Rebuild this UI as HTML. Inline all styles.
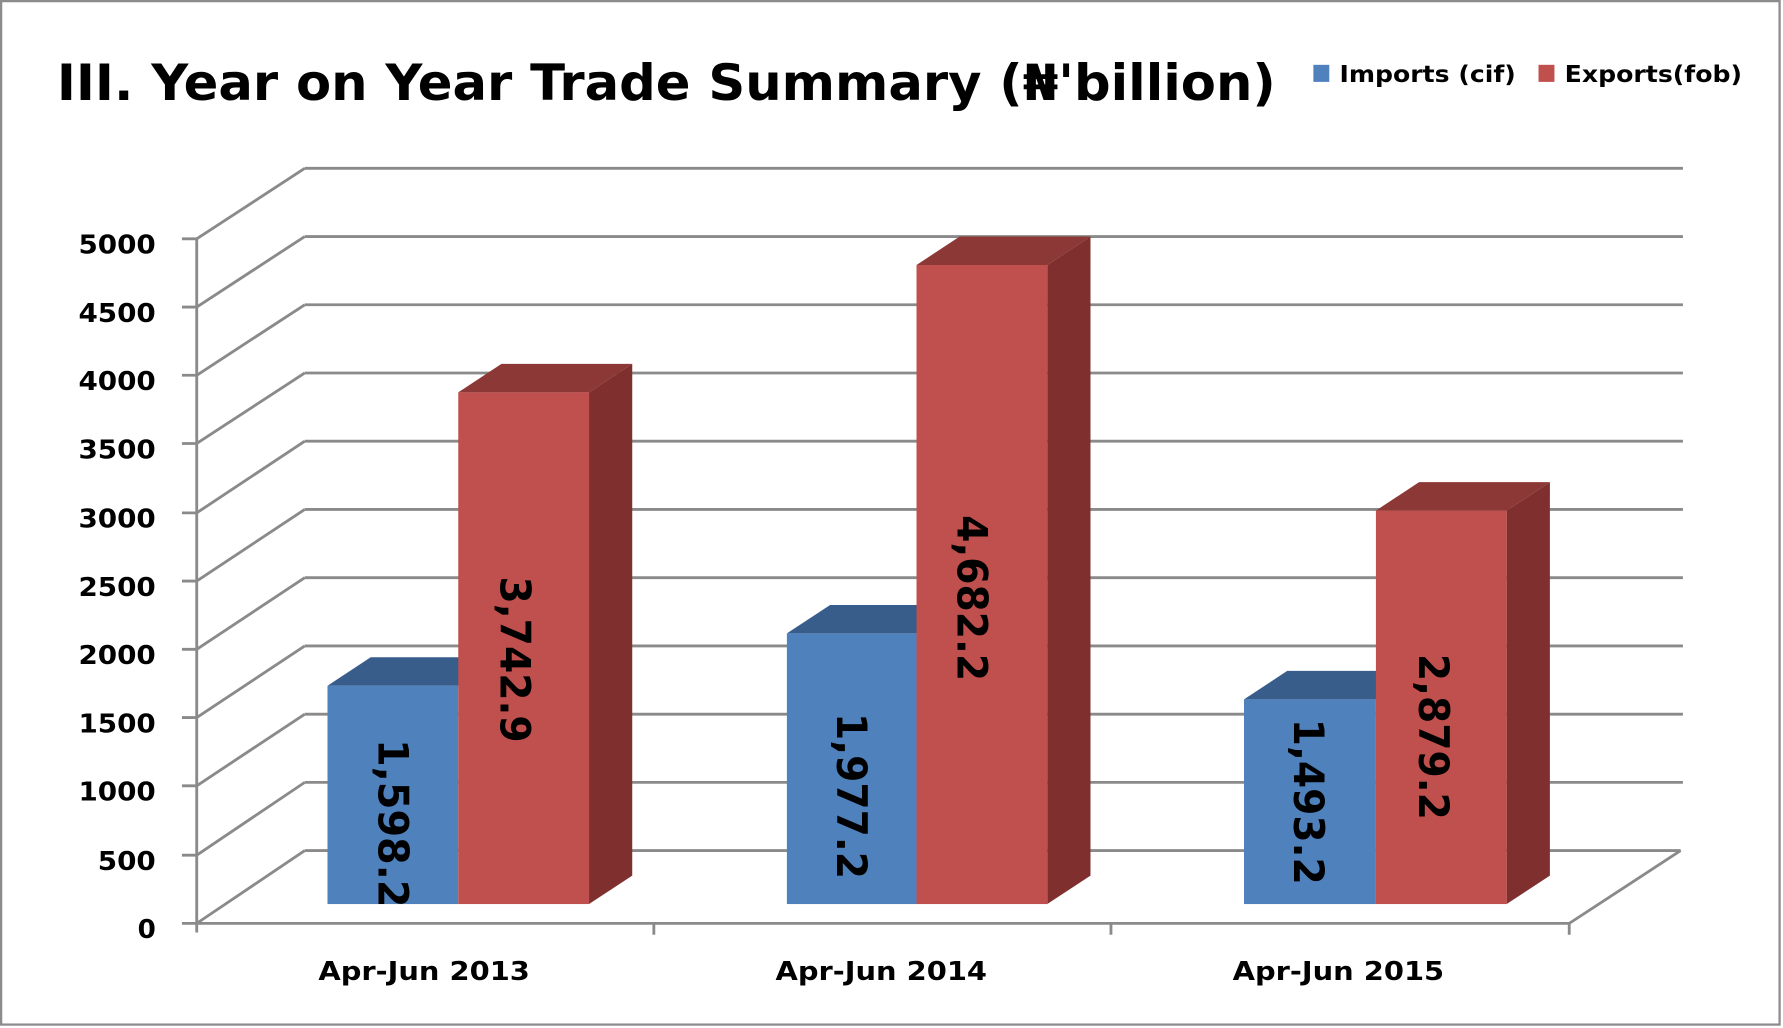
<!DOCTYPE html>
<html><head><meta charset="utf-8"><style>
html,body{margin:0;padding:0;background:#fff;}
svg{display:block;}
text{font-family:"DejaVu Sans","Liberation Sans",sans-serif;font-weight:bold;fill:#000;}
</style></head><body>
<svg width="1783" height="1028" viewBox="0 0 1568 904" preserveAspectRatio="none" xmlns="http://www.w3.org/2000/svg">
<rect x="1" y="1" width="1564" height="900" fill="#fff" stroke="#8c8c8c" stroke-width="2"/>
<text x="50" y="88" font-size="44" textLength="1072" lengthAdjust="spacingAndGlyphs">III. Year on Year Trade Summary (₦'billion)</text>
<rect x="1155" y="57" width="14" height="15" fill="#4F81BD"/>
<text x="1178" y="72" font-size="20" textLength="155" lengthAdjust="spacingAndGlyphs">Imports (cif)</text>
<rect x="1353" y="57" width="14" height="15" fill="#C0504D"/>
<text x="1376" y="72" font-size="20" textLength="156" lengthAdjust="spacingAndGlyphs">Exports(fob)</text>
<g stroke="#8a8a8a" stroke-width="2.5" fill="none">
<path d="M268 148H1480M268 208H1480M268 268H1480M268 328H1480M268 388H1480M268 448H1480M268 508H1480M268 568H1480M268 628H1480M268 688H1480M268 748H1478"/>
<path d="M173 210L268 148M173 270L268 208M173 330L268 268M173 390L268 328M173 451L268 388M173 511L268 448M173 571L268 508M173 631L268 568M173 691L268 628M173 752L268 688M173 812L268 748"/>
<path d="M173 812H1380L1478 748"/>
<path d="M173 210V820M160 210H173M160 270H173M160 330H173M160 390H173M160 451H173M160 511H173M160 571H173M160 631H173M160 691H173M160 752H173M160 812H173"/>
<path d="M575 812V822M977 812V822M1380 812V822"/>
</g>
<g font-size="23" text-anchor="end">
<text x="137" y="223" textLength="68" lengthAdjust="spacingAndGlyphs">5000</text>
<text x="137" y="283" textLength="68" lengthAdjust="spacingAndGlyphs">4500</text>
<text x="137" y="343" textLength="68" lengthAdjust="spacingAndGlyphs">4000</text>
<text x="137" y="403" textLength="68" lengthAdjust="spacingAndGlyphs">3500</text>
<text x="137" y="464" textLength="68" lengthAdjust="spacingAndGlyphs">3000</text>
<text x="137" y="524" textLength="68" lengthAdjust="spacingAndGlyphs">2500</text>
<text x="137" y="584" textLength="68" lengthAdjust="spacingAndGlyphs">2000</text>
<text x="137" y="644" textLength="68" lengthAdjust="spacingAndGlyphs">1500</text>
<text x="137" y="704" textLength="68" lengthAdjust="spacingAndGlyphs">1000</text>
<text x="137" y="765" textLength="51" lengthAdjust="spacingAndGlyphs">500</text>
<text x="137" y="825">0</text>
</g>
<g>
<polygon points="288,603 403,603 441,578 326,578" fill="#385D8A"/>
<rect x="288" y="603" width="115" height="192" fill="#4F81BD"/>
<polygon points="403,345 518,345 556,320 441,320" fill="#8C3836"/>
<polygon points="518,345 556,320 556,770 518,795" fill="#7F302E"/>
<rect x="403" y="345" width="115" height="450" fill="#C0504D"/>
<polygon points="692,557 806,557 844,532 730,532" fill="#385D8A"/>
<rect x="692" y="557" width="114" height="238" fill="#4F81BD"/>
<polygon points="806,233 921,233 959,208 844,208" fill="#8C3836"/>
<polygon points="921,233 959,208 959,770 921,795" fill="#7F302E"/>
<rect x="806" y="233" width="115" height="562" fill="#C0504D"/>
<polygon points="1094,615 1210,615 1248,590 1132,590" fill="#385D8A"/>
<rect x="1094" y="615" width="116" height="180" fill="#4F81BD"/>
<polygon points="1210,449 1325,449 1363,424 1248,424" fill="#8C3836"/>
<polygon points="1325,449 1363,424 1363,770 1325,795" fill="#7F302E"/>
<rect x="1210" y="449" width="115" height="346" fill="#C0504D"/>
</g>
<clipPath id="c1"><rect x="0" y="0" width="1568" height="795"/></clipPath>
<g font-size="37" text-anchor="middle" clip-path="url(#c1)">
<text transform="translate(333,724) rotate(90)" textLength="148" lengthAdjust="spacingAndGlyphs">1,598.2</text>
<text transform="translate(440,580) rotate(90)" textLength="146" lengthAdjust="spacingAndGlyphs">3,742.9</text>
<text transform="translate(736,700) rotate(90)" textLength="146" lengthAdjust="spacingAndGlyphs">1,977.2</text>
<text transform="translate(842,526) rotate(90)" textLength="146" lengthAdjust="spacingAndGlyphs">4,682.2</text>
<text transform="translate(1138,705) rotate(90)" textLength="146" lengthAdjust="spacingAndGlyphs">1,493.2</text>
<text transform="translate(1248,648) rotate(90)" textLength="146" lengthAdjust="spacingAndGlyphs">2,879.2</text>
</g>
<g font-size="23" text-anchor="middle">
<text x="373" y="862" textLength="186" lengthAdjust="spacingAndGlyphs">Apr-Jun 2013</text>
<text x="775" y="862" textLength="186" lengthAdjust="spacingAndGlyphs">Apr-Jun 2014</text>
<text x="1177" y="862" textLength="186" lengthAdjust="spacingAndGlyphs">Apr-Jun 2015</text>
</g>
</svg>
</body></html>
